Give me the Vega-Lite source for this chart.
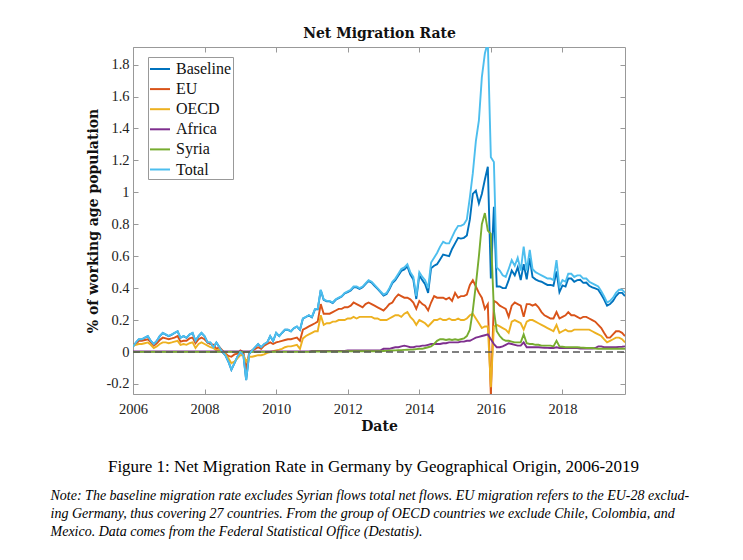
{
"$schema": "https://vega.github.io/schema/vega-lite/v6.json",
"width": 492, "height": 347,
"autosize": {"type": "none"},
"padding": {"left": 133, "top": 47, "right": 118, "bottom": 166},
"background": "white",
"config": {"view": {"stroke": null}, "font": "Liberation Serif", "axis": {"labelFlush": false, "labelOverlap": false, "grid": false}},
"layer": [
{
  "data": {"values": [
{"d":"2006-01","Baseline":0.034,"EU":0.045,"OECD":0.04,"Africa":0.003,"Syria":0.001,"Total":0.035},
{"d":"2006-02","Baseline":0.059,"EU":0.05,"OECD":0.045,"Africa":0.003,"Syria":0.001,"Total":0.06},
{"d":"2006-03","Baseline":0.079,"EU":0.07,"OECD":0.05,"Africa":0.003,"Syria":0.001,"Total":0.08},
{"d":"2006-04","Baseline":0.079,"EU":0.07,"OECD":0.05,"Africa":0.003,"Syria":0.001,"Total":0.08},
{"d":"2006-05","Baseline":0.089,"EU":0.075,"OECD":0.055,"Africa":0.003,"Syria":0.001,"Total":0.09},
{"d":"2006-06","Baseline":0.099,"EU":0.08,"OECD":0.06,"Africa":0.003,"Syria":0.001,"Total":0.1},
{"d":"2006-07","Baseline":0.069,"EU":0.06,"OECD":0.045,"Africa":0.003,"Syria":0.001,"Total":0.07},
{"d":"2006-08","Baseline":0.049,"EU":0.04,"OECD":0.025,"Africa":0.003,"Syria":0.001,"Total":0.05},
{"d":"2006-09","Baseline":0.069,"EU":0.055,"OECD":0.035,"Africa":0.003,"Syria":0.001,"Total":0.07},
{"d":"2006-10","Baseline":0.099,"EU":0.075,"OECD":0.05,"Africa":0.003,"Syria":0.001,"Total":0.1},
{"d":"2006-11","Baseline":0.119,"EU":0.09,"OECD":0.06,"Africa":0.003,"Syria":0.001,"Total":0.12},
{"d":"2006-12","Baseline":0.109,"EU":0.085,"OECD":0.06,"Africa":0.003,"Syria":0.001,"Total":0.11},
{"d":"2007-01","Baseline":0.099,"EU":0.08,"OECD":0.055,"Africa":0.003,"Syria":0.001,"Total":0.1},
{"d":"2007-02","Baseline":0.109,"EU":0.085,"OECD":0.06,"Africa":0.003,"Syria":0.001,"Total":0.11},
{"d":"2007-03","Baseline":0.119,"EU":0.09,"OECD":0.065,"Africa":0.003,"Syria":0.001,"Total":0.12},
{"d":"2007-04","Baseline":0.129,"EU":0.1,"OECD":0.07,"Africa":0.003,"Syria":0.001,"Total":0.13},
{"d":"2007-05","Baseline":0.089,"EU":0.065,"OECD":0.045,"Africa":0.003,"Syria":0.001,"Total":0.09},
{"d":"2007-06","Baseline":0.099,"EU":0.07,"OECD":0.05,"Africa":0.003,"Syria":0.001,"Total":0.1},
{"d":"2007-07","Baseline":0.089,"EU":0.07,"OECD":0.045,"Africa":0.003,"Syria":0.001,"Total":0.09},
{"d":"2007-08","Baseline":0.109,"EU":0.085,"OECD":0.055,"Africa":0.003,"Syria":0.001,"Total":0.11},
{"d":"2007-09","Baseline":0.119,"EU":0.09,"OECD":0.06,"Africa":0.003,"Syria":0.001,"Total":0.12},
{"d":"2007-10","Baseline":0.069,"EU":0.055,"OECD":0.025,"Africa":0.003,"Syria":0.001,"Total":0.07},
{"d":"2007-11","Baseline":0.099,"EU":0.08,"OECD":0.05,"Africa":0.003,"Syria":0.001,"Total":0.1},
{"d":"2007-12","Baseline":0.119,"EU":0.09,"OECD":0.06,"Africa":0.003,"Syria":0.001,"Total":0.12},
{"d":"2008-01","Baseline":0.099,"EU":0.08,"OECD":0.05,"Africa":0.003,"Syria":0.001,"Total":0.1},
{"d":"2008-02","Baseline":0.059,"EU":0.06,"OECD":0.04,"Africa":0.003,"Syria":0.001,"Total":0.06},
{"d":"2008-03","Baseline":0.059,"EU":0.05,"OECD":0.03,"Africa":0.003,"Syria":0.001,"Total":0.06},
{"d":"2008-04","Baseline":0.029,"EU":0.045,"OECD":0.025,"Africa":0.003,"Syria":0.001,"Total":0.03},
{"d":"2008-05","Baseline":0.059,"EU":0.02,"OECD":0.01,"Africa":0.003,"Syria":0.001,"Total":0.06},
{"d":"2008-06","Baseline":0.029,"EU":0.03,"OECD":0.015,"Africa":0.003,"Syria":0.001,"Total":0.03},
{"d":"2008-07","Baseline":-0.001,"EU":0.01,"OECD":0.0,"Africa":0.003,"Syria":0.001,"Total":0.0},
{"d":"2008-08","Baseline":-0.021,"EU":-0.01,"OECD":-0.015,"Africa":0.003,"Syria":0.001,"Total":-0.02},
{"d":"2008-09","Baseline":-0.061,"EU":-0.025,"OECD":-0.04,"Africa":0.003,"Syria":0.001,"Total":-0.06},
{"d":"2008-10","Baseline":-0.111,"EU":-0.03,"OECD":-0.07,"Africa":0.003,"Syria":0.001,"Total":-0.11},
{"d":"2008-11","Baseline":-0.071,"EU":-0.015,"OECD":-0.06,"Africa":0.003,"Syria":0.001,"Total":-0.07},
{"d":"2008-12","Baseline":-0.031,"EU":-0.01,"OECD":-0.04,"Africa":0.003,"Syria":0.001,"Total":-0.03},
{"d":"2009-01","Baseline":-0.001,"EU":0.01,"OECD":-0.02,"Africa":0.003,"Syria":0.001,"Total":0.0},
{"d":"2009-02","Baseline":-0.021,"EU":0.0,"OECD":-0.02,"Africa":0.003,"Syria":0.001,"Total":-0.02},
{"d":"2009-03","Baseline":-0.176,"EU":-0.11,"OECD":-0.06,"Africa":0.003,"Syria":0.001,"Total":-0.175},
{"d":"2009-04","Baseline":-0.011,"EU":0.0,"OECD":-0.03,"Africa":0.003,"Syria":0.001,"Total":-0.01},
{"d":"2009-05","Baseline":0.009,"EU":0.01,"OECD":-0.03,"Africa":0.003,"Syria":0.001,"Total":0.01},
{"d":"2009-06","Baseline":0.029,"EU":0.02,"OECD":-0.025,"Africa":0.003,"Syria":0.001,"Total":0.03},
{"d":"2009-07","Baseline":0.049,"EU":0.03,"OECD":-0.02,"Africa":0.003,"Syria":0.001,"Total":0.05},
{"d":"2009-08","Baseline":0.029,"EU":0.02,"OECD":-0.02,"Africa":0.003,"Syria":0.001,"Total":0.03},
{"d":"2009-09","Baseline":0.049,"EU":0.04,"OECD":-0.015,"Africa":0.003,"Syria":0.001,"Total":0.05},
{"d":"2009-10","Baseline":0.059,"EU":0.05,"OECD":-0.005,"Africa":0.003,"Syria":0.001,"Total":0.06},
{"d":"2009-11","Baseline":0.099,"EU":0.06,"OECD":0.0,"Africa":0.003,"Syria":0.001,"Total":0.1},
{"d":"2009-12","Baseline":0.069,"EU":0.05,"OECD":0.005,"Africa":0.003,"Syria":0.001,"Total":0.07},
{"d":"2010-01","Baseline":0.119,"EU":0.06,"OECD":0.01,"Africa":0.004,"Syria":0.001,"Total":0.12},
{"d":"2010-02","Baseline":0.099,"EU":0.065,"OECD":0.015,"Africa":0.004,"Syria":0.001,"Total":0.1},
{"d":"2010-03","Baseline":0.119,"EU":0.07,"OECD":0.02,"Africa":0.004,"Syria":0.001,"Total":0.12},
{"d":"2010-04","Baseline":0.139,"EU":0.075,"OECD":0.03,"Africa":0.004,"Syria":0.001,"Total":0.14},
{"d":"2010-05","Baseline":0.139,"EU":0.08,"OECD":0.035,"Africa":0.004,"Syria":0.001,"Total":0.14},
{"d":"2010-06","Baseline":0.129,"EU":0.08,"OECD":0.035,"Africa":0.004,"Syria":0.001,"Total":0.13},
{"d":"2010-07","Baseline":0.149,"EU":0.085,"OECD":0.04,"Africa":0.004,"Syria":0.001,"Total":0.15},
{"d":"2010-08","Baseline":0.159,"EU":0.09,"OECD":0.045,"Africa":0.004,"Syria":0.001,"Total":0.16},
{"d":"2010-09","Baseline":0.139,"EU":0.07,"OECD":0.02,"Africa":0.004,"Syria":0.001,"Total":0.14},
{"d":"2010-10","Baseline":0.209,"EU":0.14,"OECD":0.085,"Africa":0.004,"Syria":0.001,"Total":0.21},
{"d":"2010-11","Baseline":0.219,"EU":0.15,"OECD":0.1,"Africa":0.004,"Syria":0.001,"Total":0.22},
{"d":"2010-12","Baseline":0.229,"EU":0.16,"OECD":0.11,"Africa":0.004,"Syria":0.001,"Total":0.23},
{"d":"2011-01","Baseline":0.217,"EU":0.17,"OECD":0.12,"Africa":0.006,"Syria":0.003,"Total":0.22},
{"d":"2011-02","Baseline":0.267,"EU":0.18,"OECD":0.13,"Africa":0.006,"Syria":0.003,"Total":0.27},
{"d":"2011-03","Baseline":0.267,"EU":0.19,"OECD":0.13,"Africa":0.006,"Syria":0.003,"Total":0.27},
{"d":"2011-04","Baseline":0.387,"EU":0.3,"OECD":0.23,"Africa":0.006,"Syria":0.003,"Total":0.39},
{"d":"2011-05","Baseline":0.327,"EU":0.24,"OECD":0.17,"Africa":0.006,"Syria":0.003,"Total":0.33},
{"d":"2011-06","Baseline":0.317,"EU":0.24,"OECD":0.18,"Africa":0.006,"Syria":0.003,"Total":0.32},
{"d":"2011-07","Baseline":0.317,"EU":0.24,"OECD":0.18,"Africa":0.006,"Syria":0.003,"Total":0.32},
{"d":"2011-08","Baseline":0.307,"EU":0.25,"OECD":0.19,"Africa":0.006,"Syria":0.003,"Total":0.31},
{"d":"2011-09","Baseline":0.327,"EU":0.26,"OECD":0.19,"Africa":0.006,"Syria":0.003,"Total":0.33},
{"d":"2011-10","Baseline":0.337,"EU":0.27,"OECD":0.2,"Africa":0.006,"Syria":0.003,"Total":0.34},
{"d":"2011-11","Baseline":0.347,"EU":0.27,"OECD":0.2,"Africa":0.006,"Syria":0.003,"Total":0.35},
{"d":"2011-12","Baseline":0.367,"EU":0.28,"OECD":0.2,"Africa":0.006,"Syria":0.003,"Total":0.37},
{"d":"2012-01","Baseline":0.375,"EU":0.28,"OECD":0.21,"Africa":0.01,"Syria":0.005,"Total":0.38},
{"d":"2012-02","Baseline":0.385,"EU":0.29,"OECD":0.21,"Africa":0.01,"Syria":0.005,"Total":0.39},
{"d":"2012-03","Baseline":0.405,"EU":0.31,"OECD":0.22,"Africa":0.01,"Syria":0.005,"Total":0.41},
{"d":"2012-04","Baseline":0.405,"EU":0.3,"OECD":0.21,"Africa":0.01,"Syria":0.005,"Total":0.41},
{"d":"2012-05","Baseline":0.395,"EU":0.29,"OECD":0.22,"Africa":0.01,"Syria":0.005,"Total":0.4},
{"d":"2012-06","Baseline":0.405,"EU":0.28,"OECD":0.22,"Africa":0.01,"Syria":0.005,"Total":0.41},
{"d":"2012-07","Baseline":0.425,"EU":0.3,"OECD":0.22,"Africa":0.01,"Syria":0.005,"Total":0.43},
{"d":"2012-08","Baseline":0.445,"EU":0.31,"OECD":0.22,"Africa":0.01,"Syria":0.005,"Total":0.45},
{"d":"2012-09","Baseline":0.435,"EU":0.3,"OECD":0.22,"Africa":0.01,"Syria":0.005,"Total":0.44},
{"d":"2012-10","Baseline":0.415,"EU":0.29,"OECD":0.21,"Africa":0.01,"Syria":0.005,"Total":0.42},
{"d":"2012-11","Baseline":0.395,"EU":0.28,"OECD":0.21,"Africa":0.01,"Syria":0.005,"Total":0.4},
{"d":"2012-12","Baseline":0.375,"EU":0.27,"OECD":0.2,"Africa":0.01,"Syria":0.005,"Total":0.38},
{"d":"2013-01","Baseline":0.354,"EU":0.26,"OECD":0.2,"Africa":0.02,"Syria":0.006,"Total":0.36},
{"d":"2013-02","Baseline":0.363,"EU":0.28,"OECD":0.2,"Africa":0.02,"Syria":0.007,"Total":0.37},
{"d":"2013-03","Baseline":0.392,"EU":0.3,"OECD":0.21,"Africa":0.02,"Syria":0.008,"Total":0.4},
{"d":"2013-04","Baseline":0.431,"EU":0.31,"OECD":0.22,"Africa":0.025,"Syria":0.009,"Total":0.44},
{"d":"2013-05","Baseline":0.45,"EU":0.34,"OECD":0.23,"Africa":0.03,"Syria":0.01,"Total":0.46},
{"d":"2013-06","Baseline":0.479,"EU":0.36,"OECD":0.23,"Africa":0.03,"Syria":0.011,"Total":0.49},
{"d":"2013-07","Baseline":0.508,"EU":0.35,"OECD":0.22,"Africa":0.035,"Syria":0.012,"Total":0.52},
{"d":"2013-08","Baseline":0.517,"EU":0.34,"OECD":0.24,"Africa":0.04,"Syria":0.013,"Total":0.53},
{"d":"2013-09","Baseline":0.536,"EU":0.34,"OECD":0.25,"Africa":0.035,"Syria":0.014,"Total":0.55},
{"d":"2013-10","Baseline":0.485,"EU":0.33,"OECD":0.22,"Africa":0.03,"Syria":0.015,"Total":0.5},
{"d":"2013-11","Baseline":0.454,"EU":0.31,"OECD":0.2,"Africa":0.03,"Syria":0.016,"Total":0.47},
{"d":"2013-12","Baseline":0.332,"EU":0.27,"OECD":0.17,"Africa":0.035,"Syria":0.018,"Total":0.35},
{"d":"2014-01","Baseline":0.48,"EU":0.32,"OECD":0.2,"Africa":0.035,"Syria":0.02,"Total":0.5},
{"d":"2014-02","Baseline":0.45,"EU":0.3,"OECD":0.19,"Africa":0.04,"Syria":0.02,"Total":0.47},
{"d":"2014-03","Baseline":0.425,"EU":0.29,"OECD":0.18,"Africa":0.04,"Syria":0.025,"Total":0.45},
{"d":"2014-04","Baseline":0.37,"EU":0.26,"OECD":0.16,"Africa":0.045,"Syria":0.03,"Total":0.4},
{"d":"2014-05","Baseline":0.525,"EU":0.31,"OECD":0.18,"Africa":0.05,"Syria":0.035,"Total":0.56},
{"d":"2014-06","Baseline":0.54,"EU":0.35,"OECD":0.2,"Africa":0.05,"Syria":0.05,"Total":0.59},
{"d":"2014-07","Baseline":0.55,"EU":0.34,"OECD":0.2,"Africa":0.05,"Syria":0.07,"Total":0.62},
{"d":"2014-08","Baseline":0.58,"EU":0.34,"OECD":0.21,"Africa":0.05,"Syria":0.08,"Total":0.66},
{"d":"2014-09","Baseline":0.61,"EU":0.34,"OECD":0.2,"Africa":0.055,"Syria":0.08,"Total":0.69},
{"d":"2014-10","Baseline":0.605,"EU":0.33,"OECD":0.2,"Africa":0.055,"Syria":0.075,"Total":0.68},
{"d":"2014-11","Baseline":0.6,"EU":0.34,"OECD":0.21,"Africa":0.06,"Syria":0.08,"Total":0.68},
{"d":"2014-12","Baseline":0.645,"EU":0.32,"OECD":0.2,"Africa":0.06,"Syria":0.075,"Total":0.72},
{"d":"2015-01","Baseline":0.68,"EU":0.37,"OECD":0.2,"Africa":0.06,"Syria":0.08,"Total":0.76},
{"d":"2015-02","Baseline":0.715,"EU":0.34,"OECD":0.21,"Africa":0.06,"Syria":0.075,"Total":0.79},
{"d":"2015-03","Baseline":0.71,"EU":0.35,"OECD":0.2,"Africa":0.065,"Syria":0.08,"Total":0.79},
{"d":"2015-04","Baseline":0.715,"EU":0.35,"OECD":0.2,"Africa":0.065,"Syria":0.085,"Total":0.8},
{"d":"2015-05","Baseline":0.73,"EU":0.36,"OECD":0.21,"Africa":0.07,"Syria":0.1,"Total":0.83},
{"d":"2015-06","Baseline":0.83,"EU":0.42,"OECD":0.23,"Africa":0.07,"Syria":0.14,"Total":0.97},
{"d":"2015-07","Baseline":0.99,"EU":0.45,"OECD":0.24,"Africa":0.08,"Syria":0.26,"Total":1.12},
{"d":"2015-08","Baseline":1.01,"EU":0.41,"OECD":0.21,"Africa":0.09,"Syria":0.42,"Total":1.32},
{"d":"2015-09","Baseline":0.93,"EU":0.37,"OECD":0.18,"Africa":0.095,"Syria":0.6,"Total":1.45},
{"d":"2015-10","Baseline":0.99,"EU":0.34,"OECD":0.15,"Africa":0.1,"Syria":0.8,"Total":1.72},
{"d":"2015-11","Baseline":1.08,"EU":0.27,"OECD":0.16,"Africa":0.105,"Syria":0.87,"Total":1.87},
{"d":"2015-12","Baseline":1.16,"EU":0.3,"OECD":0.16,"Africa":0.11,"Syria":0.76,"Total":1.94},
{"d":"2016-01","Baseline":0.46,"EU":-0.27,"OECD":-0.22,"Africa":0.08,"Syria":0.74,"Total":1.22},
{"d":"2016-02","Baseline":0.91,"EU":0.32,"OECD":0.16,"Africa":0.05,"Syria":0.26,"Total":1.19},
{"d":"2016-03","Baseline":0.41,"EU":0.31,"OECD":0.17,"Africa":0.03,"Syria":0.13,"Total":0.53},
{"d":"2016-04","Baseline":0.41,"EU":0.29,"OECD":0.16,"Africa":0.03,"Syria":0.1,"Total":0.51},
{"d":"2016-05","Baseline":0.4,"EU":0.28,"OECD":0.15,"Africa":0.035,"Syria":0.08,"Total":0.48},
{"d":"2016-06","Baseline":0.4,"EU":0.27,"OECD":0.14,"Africa":0.045,"Syria":0.07,"Total":0.47},
{"d":"2016-07","Baseline":0.45,"EU":0.22,"OECD":0.12,"Africa":0.055,"Syria":0.07,"Total":0.52},
{"d":"2016-08","Baseline":0.51,"EU":0.29,"OECD":0.19,"Africa":0.05,"Syria":0.065,"Total":0.575},
{"d":"2016-09","Baseline":0.48,"EU":0.31,"OECD":0.2,"Africa":0.045,"Syria":0.06,"Total":0.54},
{"d":"2016-10","Baseline":0.53,"EU":0.3,"OECD":0.19,"Africa":0.04,"Syria":0.06,"Total":0.59},
{"d":"2016-11","Baseline":0.45,"EU":0.29,"OECD":0.18,"Africa":0.04,"Syria":0.06,"Total":0.51},
{"d":"2016-12","Baseline":0.55,"EU":0.22,"OECD":0.14,"Africa":0.06,"Syria":0.11,"Total":0.66},
{"d":"2017-01","Baseline":0.455,"EU":0.3,"OECD":0.19,"Africa":0.03,"Syria":0.055,"Total":0.51},
{"d":"2017-02","Baseline":0.59,"EU":0.3,"OECD":0.2,"Africa":0.03,"Syria":0.05,"Total":0.64},
{"d":"2017-03","Baseline":0.47,"EU":0.29,"OECD":0.2,"Africa":0.03,"Syria":0.05,"Total":0.52},
{"d":"2017-04","Baseline":0.455,"EU":0.3,"OECD":0.19,"Africa":0.03,"Syria":0.045,"Total":0.5},
{"d":"2017-05","Baseline":0.445,"EU":0.28,"OECD":0.18,"Africa":0.03,"Syria":0.045,"Total":0.49},
{"d":"2017-06","Baseline":0.44,"EU":0.25,"OECD":0.17,"Africa":0.028,"Syria":0.04,"Total":0.48},
{"d":"2017-07","Baseline":0.43,"EU":0.23,"OECD":0.16,"Africa":0.027,"Syria":0.04,"Total":0.47},
{"d":"2017-08","Baseline":0.42,"EU":0.22,"OECD":0.15,"Africa":0.026,"Syria":0.04,"Total":0.46},
{"d":"2017-09","Baseline":0.42,"EU":0.21,"OECD":0.14,"Africa":0.025,"Syria":0.04,"Total":0.46},
{"d":"2017-10","Baseline":0.415,"EU":0.21,"OECD":0.13,"Africa":0.025,"Syria":0.035,"Total":0.45},
{"d":"2017-11","Baseline":0.505,"EU":0.25,"OECD":0.17,"Africa":0.03,"Syria":0.07,"Total":0.575},
{"d":"2017-12","Baseline":0.375,"EU":0.21,"OECD":0.12,"Africa":0.025,"Syria":0.035,"Total":0.41},
{"d":"2018-01","Baseline":0.417,"EU":0.22,"OECD":0.13,"Africa":0.025,"Syria":0.033,"Total":0.45},
{"d":"2018-02","Baseline":0.41,"EU":0.23,"OECD":0.14,"Africa":0.025,"Syria":0.03,"Total":0.44},
{"d":"2018-03","Baseline":0.46,"EU":0.25,"OECD":0.13,"Africa":0.025,"Syria":0.03,"Total":0.49},
{"d":"2018-04","Baseline":0.46,"EU":0.23,"OECD":0.13,"Africa":0.025,"Syria":0.03,"Total":0.49},
{"d":"2018-05","Baseline":0.44,"EU":0.23,"OECD":0.14,"Africa":0.025,"Syria":0.03,"Total":0.47},
{"d":"2018-06","Baseline":0.45,"EU":0.22,"OECD":0.14,"Africa":0.025,"Syria":0.03,"Total":0.48},
{"d":"2018-07","Baseline":0.452,"EU":0.21,"OECD":0.14,"Africa":0.022,"Syria":0.028,"Total":0.48},
{"d":"2018-08","Baseline":0.433,"EU":0.22,"OECD":0.14,"Africa":0.022,"Syria":0.027,"Total":0.46},
{"d":"2018-09","Baseline":0.435,"EU":0.22,"OECD":0.14,"Africa":0.022,"Syria":0.025,"Total":0.46},
{"d":"2018-10","Baseline":0.415,"EU":0.21,"OECD":0.14,"Africa":0.022,"Syria":0.025,"Total":0.44},
{"d":"2018-11","Baseline":0.405,"EU":0.2,"OECD":0.13,"Africa":0.022,"Syria":0.025,"Total":0.43},
{"d":"2018-12","Baseline":0.398,"EU":0.19,"OECD":0.12,"Africa":0.025,"Syria":0.022,"Total":0.42},
{"d":"2019-01","Baseline":0.39,"EU":0.17,"OECD":0.11,"Africa":0.035,"Syria":0.02,"Total":0.41},
{"d":"2019-02","Baseline":0.36,"EU":0.15,"OECD":0.1,"Africa":0.035,"Syria":0.02,"Total":0.38},
{"d":"2019-03","Baseline":0.33,"EU":0.12,"OECD":0.08,"Africa":0.03,"Syria":0.02,"Total":0.35},
{"d":"2019-04","Baseline":0.29,"EU":0.09,"OECD":0.06,"Africa":0.03,"Syria":0.02,"Total":0.31},
{"d":"2019-05","Baseline":0.3,"EU":0.09,"OECD":0.07,"Africa":0.03,"Syria":0.02,"Total":0.32},
{"d":"2019-06","Baseline":0.32,"EU":0.11,"OECD":0.08,"Africa":0.03,"Syria":0.02,"Total":0.34},
{"d":"2019-07","Baseline":0.35,"EU":0.13,"OECD":0.09,"Africa":0.03,"Syria":0.02,"Total":0.37},
{"d":"2019-08","Baseline":0.37,"EU":0.13,"OECD":0.09,"Africa":0.032,"Syria":0.02,"Total":0.39},
{"d":"2019-09","Baseline":0.37,"EU":0.12,"OECD":0.08,"Africa":0.033,"Syria":0.02,"Total":0.39},
{"d":"2019-10","Baseline":0.35,"EU":0.1,"OECD":0.06,"Africa":0.035,"Syria":0.02,"Total":0.37}
  ]},
  "transform": [{"fold": ["Baseline", "EU", "OECD", "Africa", "Syria", "Total"], "as": ["series", "value"]}],
  "mark": {"type": "line", "clip": true, "strokeWidth": 1.9},
  "encoding": {
    "x": {"field": "d", "type": "temporal",
      "scale": {"type": "utc", "domain": [{"year": 2006, "month": 1, "date": 1, "utc": true}, {"year": 2019, "month": 10, "date": 1, "utc": true}]},
      "axis": {"orient": "bottom", "values": [{"year": 2006, "utc": true}, {"year": 2008, "utc": true}, {"year": 2010, "utc": true}, {"year": 2012, "utc": true}, {"year": 2014, "utc": true}, {"year": 2016, "utc": true}, {"year": 2018, "utc": true}],
        "labelExpr": "utcFormat(datum.value, '%Y')",
        "title": "Date", "titleFont": "DejaVu Serif", "titleFontWeight": "bold", "titleFontSize": 14, "titleColor": "#111", "titlePadding": 4,
        "labelFont": "Liberation Serif", "labelFontSize": 14.5, "labelColor": "#222", "labelPadding": 13,
        "tickSize": -5, "tickColor": "#999", "domainColor": "#999", "domainWidth": 1}},
    "y": {"field": "value", "type": "quantitative",
      "scale": {"domain": [-0.263, 1.91], "nice": false, "zero": false},
      "axis": {"orient": "left", "values": [-0.2, 0, 0.2, 0.4, 0.6, 0.8, 1, 1.2, 1.4, 1.6, 1.8],
        "labelExpr": "replace(format(datum.value, '.1~f'), '\u2212', '-')",
        "title": "% of working age population", "titleFont": "DejaVu Serif", "titleFontWeight": "bold", "titleFontSize": 14, "titleColor": "#111", "titlePadding": 6,
        "labelFont": "Liberation Serif", "labelFontSize": 14.5, "labelColor": "#222", "labelPadding": 9,
        "tickSize": -5, "tickColor": "#999", "domainColor": "#999", "domainWidth": 1}},
    "color": {"field": "series", "type": "nominal",
      "scale": {"domain": ["Baseline", "EU", "OECD", "Africa", "Syria", "Total"], "range": ["#0072BD", "#D95319", "#EDB120", "#7E2F8E", "#77AC30", "#4DBEEE"]},
      "legend": {"orient": "none", "legendX": 15, "legendY": 10, "title": null, "symbolType": "stroke", "symbolSize": 400, "symbolStrokeWidth": 2,
        "labelFont": "Liberation Serif", "labelFontSize": 16, "labelColor": "#111", "labelOffset": 5, "padding": 1, "rowPadding": 1.1,
        "fillColor": "white", "strokeColor": "#999", "cornerRadius": 0}}
  }
},
{
  "data": {"values": [{"d": "2006-01", "z": 0}, {"d": "2019-10", "z": 0}]},
  "mark": {"type": "line", "clip": true, "strokeDash": [7, 4], "color": "#555555", "strokeWidth": 1.7},
  "encoding": {
    "x": {"field": "d", "type": "temporal",
      "scale": {"type": "utc", "domain": [{"year": 2006, "month": 1, "date": 1, "utc": true}, {"year": 2019, "month": 10, "date": 1, "utc": true}]},
      "axis": {"orient": "top", "values": [{"year": 2006, "utc": true}, {"year": 2008, "utc": true}, {"year": 2010, "utc": true}, {"year": 2012, "utc": true}, {"year": 2014, "utc": true}, {"year": 2016, "utc": true}, {"year": 2018, "utc": true}],
        "labels": false, "title": "Net Migration Rate", "titleFont": "DejaVu Serif", "titleFontWeight": "bold", "titleFontSize": 14, "titleColor": "#111", "titlePadding": 6,
        "tickSize": -5, "tickColor": "#999", "domainColor": "#999", "domainWidth": 1}},
    "y": {"field": "z", "type": "quantitative",
      "scale": {"domain": [-0.263, 1.91], "nice": false, "zero": false},
      "axis": {"orient": "right", "values": [-0.2, 0, 0.2, 0.4, 0.6, 0.8, 1, 1.2, 1.4, 1.6, 1.8], "labels": false, "title": null,
        "tickSize": -5, "tickColor": "#999", "domainColor": "#999", "domainWidth": 1}}
  }
},
{
  "data": {"values": [{"d": "2006-01", "z": 0}, {"d": "2019-10", "z": 0}]},
  "mark": {"type": "line", "strokeOpacity": 0},
  "encoding": {
    "x": {"field": "d", "type": "temporal",
      "scale": {"type": "utc", "domain": [{"year": 2006, "month": 1, "date": 1, "utc": true}, {"year": 2019, "month": 10, "date": 1, "utc": true}]},
      "axis": {"orient": "bottom", "domain": false, "ticks": false, "labels": false, "grid": false,
        "title": "Figure 1: Net Migration Rate in Germany by Geographical Origin, 2006-2019",
        "titleX": 240, "titleY": 72, "titleAlign": "center", "titleBaseline": "middle", "titleAngle": 0,
        "titleFont": "Liberation Serif", "titleFontSize": 17, "titleFontWeight": "normal", "titleColor": "black"}},
    "y": {"field": "z", "type": "quantitative",
      "scale": {"domain": [-0.263, 1.91], "nice": false, "zero": false},
      "axis": {"orient": "left", "domain": false, "ticks": false, "labels": false, "grid": false,
        "title": ["Note: The baseline migration rate excludes Syrian flows total net flows. EU migration refers to the EU-28 exclud-", "ing Germany, thus covering 27 countries. From the group of OECD countries we exclude Chile, Colombia, and", "Mexico. Data comes from the Federal Statistical Office (Destatis)."],
        "titleX": -83, "titleY": 441, "titleAlign": "left", "titleBaseline": "top", "titleAngle": 0, "titleLineHeight": 18,
        "titleFont": "Liberation Serif", "titleFontSize": 14, "titleFontStyle": "italic", "titleFontWeight": "normal", "titleColor": "black"}}
  }
}
],
"resolve": {"axis": {"x": "independent", "y": "independent"}}
}
